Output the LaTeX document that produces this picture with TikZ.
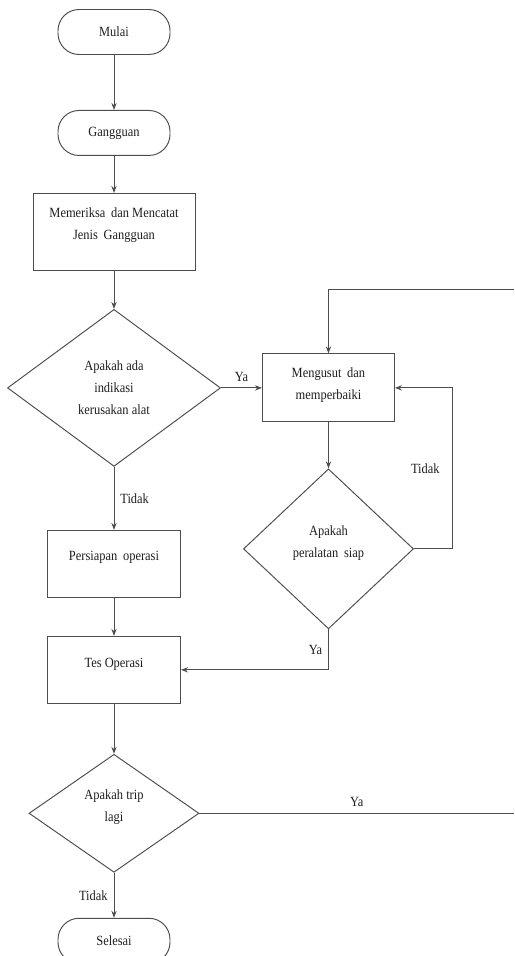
\documentclass[tikz,border=0pt]{standalone}
\usepackage{fontspec}
\setmainfont[FakeStretch=0.885]{Liberation Serif}
\usepackage{tikz}
\usetikzlibrary{positioning,shapes.geometric,calc,arrows.meta}
\definecolor{abu}{HTML}{4D4D4D}
\definecolor{teks}{HTML}{1E1E1E}

\begin{document}
\begin{tikzpicture}[
  node distance=1cm,
  terminal/.style={rectangle, draw=abu, text=teks, line width=0.55pt,
    rounded corners=12pt, minimum width=2.24cm, minimum height=0.9cm,
    font=\fontsize{8}{12.5}\selectfont},
  proses/.style={rectangle, draw=abu, text=teks, line width=0.55pt,
    align=center, font=\fontsize{8}{12.5}\selectfont},
  keputusan/.style={diamond, draw=abu, text=teks, line width=0.55pt,
    inner sep=1pt, align=center, font=\fontsize{8}{12.5}\selectfont},
  ket/.style={text=teks, font=\fontsize{8}{12.5}\selectfont},
  arrow/.style={->, >={Stealth[length=4pt,width=3pt]}, line width=0.55pt, color=abu},
  jalur/.style={line width=0.55pt, color=abu},
]
\useasboundingbox (-2.28,0.64) rectangle (8.0,-18.48);
\node[terminal] (mulai) at (0,0) {Mulai};
\node[terminal, below=1.1cm of mulai] (gangguan) {Gangguan};
\node[proses, minimum width=3.24cm, minimum height=1.54cm, text depth=10pt, below=0.74cm of gangguan] (periksa) {Memeriksa\hspace{1.5pt} dan Mencatat\\Jenis\hspace{1.5pt} Gangguan};
\node[keputusan, minimum width=4.26cm, minimum height=3.14cm, below=0.76cm of periksa] (indikasi) {Apakah ada\\indikasi\\kerusakan alat};
\node[proses, minimum width=2.64cm, minimum height=1.36cm, text depth=4.5pt, right=0.82cm of indikasi] (perbaiki) {Mengusut\hspace{1.5pt} dan\\memperbaiki};
\node[keputusan, minimum width=3.4cm, minimum height=3.2cm, text depth=8.5pt, below=0.92cm of perbaiki] (siap) {Apakah\\peralatan\hspace{1.5pt} siap};
\node[proses, minimum width=2.66cm, minimum height=1.34cm, text depth=9.5pt, below=1.26cm of indikasi] (persiapan) {Persiapan\hspace{1.5pt} operasi};
\node[proses, minimum width=2.66cm, minimum height=1.34cm, text depth=8.5pt, below=0.76cm of persiapan] (tes) {Tes Operasi};
\node[keputusan, minimum width=3.4cm, minimum height=2.36cm, text depth=9pt, below=1.0cm of tes] (trip) {Apakah trip\\lagi};
\node[terminal, below=0.9cm of trip] (selesai) {Selesai};
\coordinate (atas) at (8.0,-5.14);
\coordinate (bawah) at (trip.east -| atas);
\draw[arrow] (mulai) -- (gangguan);
\draw[arrow] (gangguan) -- (periksa);
\draw[arrow] (periksa) -- (indikasi);
\draw[arrow] (indikasi) -- node[ket, above] {Ya} (perbaiki);
\draw[arrow] (indikasi) -- node[ket, right] {Tidak} (persiapan);
\draw[arrow] (perbaiki) -- (siap);
\draw[arrow] (siap.east) -- ++(0.78cm,0) |- node[ket, pos=0.25, left=4pt] {Tidak} (perbaiki.east);
\draw[arrow] (siap.south) |- node[ket, pos=0.25, left] {Ya} (tes.east);
\draw[arrow] (persiapan) -- (tes);
\draw[arrow] (tes) -- (trip);
\draw[arrow] (trip) -- node[ket, left] {Tidak} (selesai);
\draw[jalur] (trip.east) -- node[ket, above] {Ya} (bawah);
\draw[arrow] (atas) -| (perbaiki.north);
\end{tikzpicture}
\end{document}
